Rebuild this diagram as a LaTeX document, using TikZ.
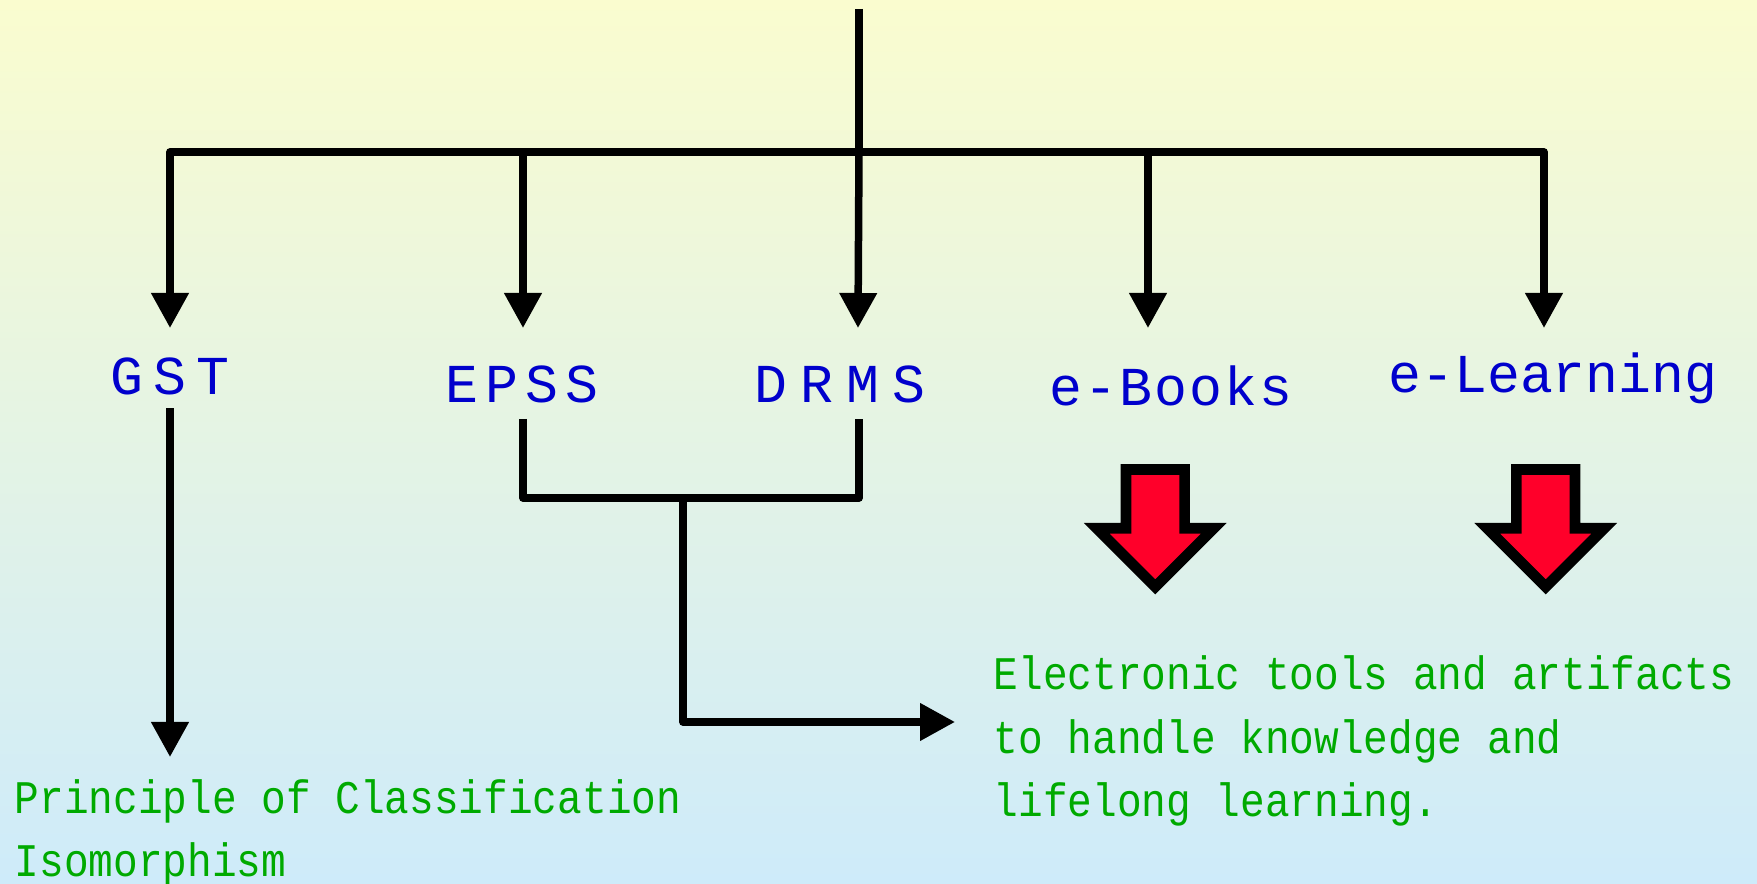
\documentclass[tikz,border=0pt]{standalone}
\usepackage{fontspec}
\setmonofont{Liberation Mono}
\newfontfamily\notefont[FakeStretch=0.88]{Liberation Mono}
\usetikzlibrary{arrows.meta,positioning}

\definecolor{topyellow}{RGB}{250,252,207}
\definecolor{bottomblue}{RGB}{206,235,250}
\definecolor{lblblue}{RGB}{0,0,204}
\definecolor{notegreen}{RGB}{0,170,0}
\definecolor{arrowred}{RGB}{255,0,42}

\tikzset{
  link/.style={line width=0.075cm, line join=round},
  arr/.style={link, -{Triangle[length=0.35cm,width=0.36cm]}},
  lbl/.style={font=\ttfamily\fontsize{15.6}{18}\selectfont, text=lblblue,
    anchor=base, inner sep=0pt},
  % multi-line notes sit on the baseline of their last line
  note/.style={font=\notefont\fontsize{13.3}{18.2}\selectfont, text=notegreen,
    anchor=base west, align=left, inner sep=0pt},
  bigarrow/.style={draw=black, line width=0.106cm, fill=arrowred}
}

\begin{document}
\begin{tikzpicture}
  \useasboundingbox (0,0) rectangle (17.57,8.84);
  \shade[top color=topyellow, bottom color=bottomblue] (0,0) rectangle (17.57,8.84);

  % tree from the top
  \coordinate (root) at (8.59,8.75);
  \coordinate (hub) at (8.59,7.32);
  \coordinate (t1) at (1.70,5.56); \coordinate (t2) at (5.23,5.56);
  \coordinate (t3) at (8.58,5.56); \coordinate (t4) at (11.48,5.56);
  \coordinate (t5) at (15.44,5.56);
  \draw[link] (root) -- (hub);
  \draw[arr] (hub) -| (t1);
  \draw[arr] (hub) -| (t5);
  \draw[arr] (t2 |- hub) -- (t2);
  \draw[arr] (hub) -- (t3);
  \draw[arr] (t4 |- hub) -- (t4);

  \node[lbl] (gst) at (1.70,4.89) {\addfontfeature{LetterSpace=18}GST};
  \node[lbl] (epss) at (5.22,4.81) {\addfontfeature{LetterSpace=13}EPSS};
  \node[lbl] (drms) at (8.40,4.81) {\addfontfeature{LetterSpace=24}DRMS};
  \node[lbl] (ebooks) at (11.71,4.78) {\addfontfeature{LetterSpace=4}e-Books};
  \node[lbl] (elearn) at (15.53,4.91) {e-Learning};

  % GST branch
  \node[note] (pci) at (0.14,0.07) {Principle of Classification\\Isomorphism};
  \coordinate (p1) at (1.70,1.27);
  \draw[arr] ([yshift=-0.12cm]gst.south) -- (p1);

  % EPSS and DRMS joined
  \coordinate (e1) at (5.23,4.65); \coordinate (d1) at (8.59,4.65);
  \coordinate (merge) at (6.83,3.86);
  \coordinate (m1) at (9.55,1.62);
  \draw[link] (e1) |- (d1 |- merge) -- (d1);
  \draw[arr] (merge) |- (m1);

  \node[note] (etools) at (9.93,0.67)
    {Electronic tools and artifacts\\to handle knowledge and\\lifelong learning.};

  % red block arrows
  \foreach \x in {11.553,15.457}
    \draw[bigarrow] (\x-0.293,4.145) -- (\x+0.293,4.145) -- (\x+0.293,3.557)
      -- (\x+0.586,3.557) -- (\x,2.971) -- (\x-0.586,3.557)
      -- (\x-0.293,3.557) -- cycle;
\end{tikzpicture}
\end{document}
